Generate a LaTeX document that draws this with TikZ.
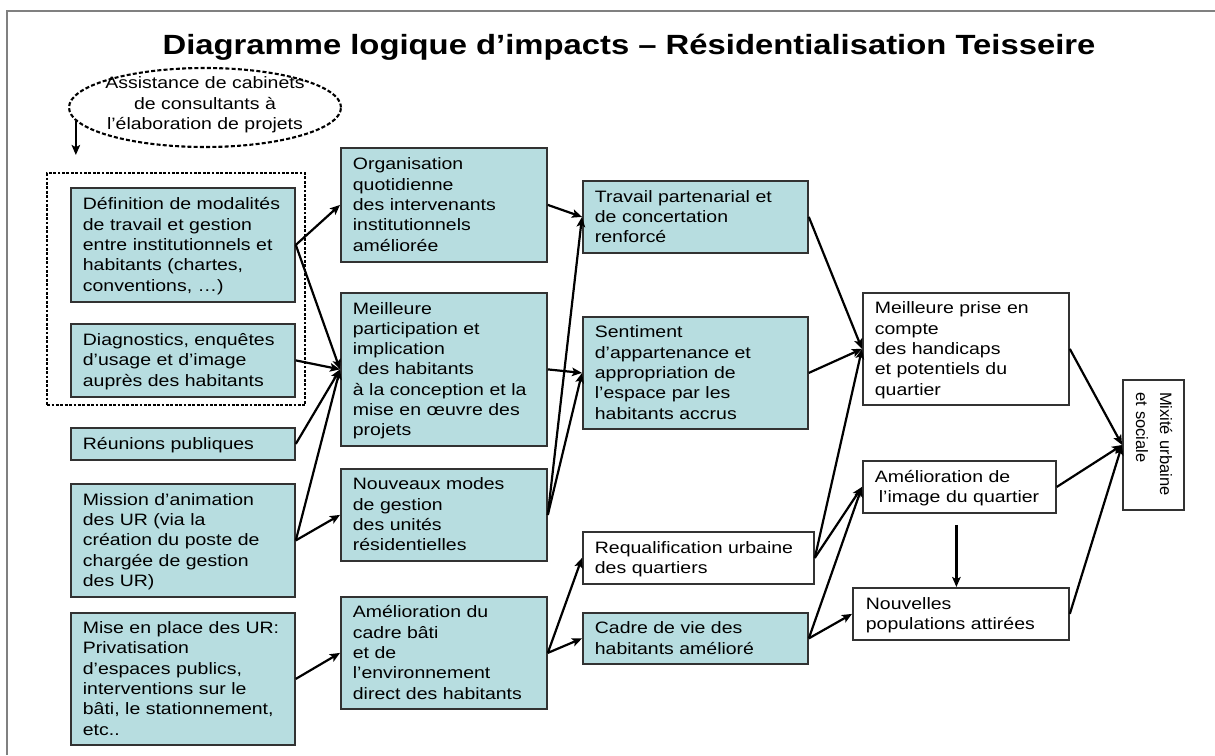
\documentclass[tikz,border=0pt]{standalone}
\usepackage{fontspec}
\setmainfont[FakeStretch=1.18]{Liberation Sans}
\newfontfamily\mixfont{Liberation Sans}
\usetikzlibrary{shapes.geometric,arrows.meta,calc}
\definecolor{boxfill}{RGB}{183,221,224}
\definecolor{boxline}{RGB}{50,50,50}
\definecolor{framegray}{RGB}{128,128,128}
\begin{document}
\begin{tikzpicture}[x=1pt,y=-1pt,
  base/.style={draw=boxline, line width=1.8pt, anchor=north west, inner sep=0pt,
    align=left, font=\fontsize{16.5}{20.3}\selectfont,
    execute at begin node={\rule{0pt}{15.5pt}},
    execute at end node={\rule[-4.5pt]{0pt}{4.5pt}}},
  tbox/.style={base, fill=boxfill},
  wbox/.style={base, fill=white},
  arr/.style={-{Stealth[length=10pt,width=8.5pt,inset=2.2pt]}, line width=2.2pt},
  grpbox/.style={draw=black, line width=2.2pt, dash pattern=on 2.8pt off 1.6pt, anchor=north west, inner sep=0pt},
  cloud/.style={ellipse, draw=black, line width=2.1pt, dash pattern=on 4pt off 2.2pt, inner sep=0pt},
  txt/.style={font=\fontsize{16.5}{20.3}\selectfont}
]
\useasboundingbox (0,0) rectangle (1215,755);
\draw[framegray, line width=1.3pt] (7,755) -- (7,11) -- (1215,11);

\node[font=\bfseries\fontsize{27.8}{31}\selectfont, anchor=base] (title) at (629,54)
  {Diagramme logique d’impacts – Résidentialisation Teisseire};

% consultants ellipse
\node[cloud, minimum width=272pt, minimum height=79pt] (ell) at (205,107.5) {};
\node[txt, align=center] (elltxt) at (205,105) {Assistance de cabinets\\de consultants à\\l’élaboration de projets};
\coordinate (ellarr) at (79,155);
\draw[arr] (ell.186.7) -- (ell.186.7 |- ellarr);

% dashed group
\node[grpbox, minimum width=258pt, minimum height=232pt] (grp) at (46,172) {};

% column 1
\node[tbox, minimum width=224pt, text width=200pt, minimum height=114pt] (def) at (70,187)
  {Définition de modalités\\de travail et gestion\\entre institutionnels et\\habitants (chartes,\\conventions, …)};
\node[tbox, minimum width=224pt, text width=200pt, minimum height=73pt] (dia) at (70,323)
  {Diagnostics, enquêtes\\d’usage et d’image\\auprès des habitants};
\node[tbox, minimum width=224pt, text width=200pt, minimum height=32pt] (reu) at (70,427)
  {Réunions publiques};
\node[tbox, minimum width=224pt, text width=200pt, minimum height=113pt] (mis) at (70,483)
  {Mission d’animation\\des UR (via la\\création du poste de\\chargée de gestion\\des UR)};
\node[tbox, minimum width=224pt, text width=200pt, minimum height=132pt] (mep) at (70,612)
  {Mise en place des UR:\\Privatisation\\d’espaces publics,\\interventions sur le\\bâti, le stationnement,\\etc..};

% column 2
\node[tbox, minimum width=206pt, text width=182pt, minimum height=114pt] (org) at (340,147)
  {Organisation\\quotidienne\\des intervenants\\institutionnels\\améliorée};
\node[tbox, minimum width=206pt, text width=182pt, minimum height=153pt] (mei) at (340,292)
  {Meilleure\\participation et\\implication\\\hspace*{5pt}des habitants\\à la conception et la\\mise en œuvre des\\projets};
\node[tbox, minimum width=206pt, text width=182pt, minimum height=92pt] (nou) at (340,468)
  {Nouveaux modes\\de gestion\\des unités\\résidentielles};
\node[tbox, minimum width=206pt, text width=182pt, minimum height=112pt] (ame) at (340,596)
  {Amélioration du\\cadre bâti\\et de\\l’environnement\\direct des habitants};

% column 3
\node[tbox, minimum width=225pt, text width=201pt, minimum height=72pt] (tra) at (582,180)
  {Travail partenarial et\\de concertation\\renforcé};
\node[tbox, minimum width=225pt, text width=201pt, minimum height=112pt] (sen) at (582,316)
  {Sentiment\\d’appartenance et\\appropriation de\\l’espace par les\\habitants accrus};
\node[wbox, minimum width=231pt, text width=207pt, minimum height=52pt] (req) at (582,531)
  {Requalification urbaine\\des quartiers};
\node[tbox, minimum width=225pt, text width=201pt, minimum height=51pt] (cad) at (582,612)
  {Cadre de vie des\\habitants amélioré};

% column 4
\node[wbox, minimum width=206pt, text width=182pt, minimum height=112pt] (mpc) at (862,292)
  {Meilleure prise en\\compte\\des handicaps\\et potentiels du\\quartier};
\node[wbox, minimum width=193pt, text width=169pt, minimum height=52pt] (img) at (862,460)
  {Amélioration de\\\hspace*{4pt}l’image du quartier};
\node[wbox, minimum width=216pt, text width=190pt, minimum height=52pt] (npa) at (852,587)
  {Nouvelles\\populations attirées};

% final outcome
\node[wbox, anchor=center, rotate=-90, minimum width=130pt, text width=106pt, minimum height=61pt,
  font=\mixfont\fontsize{16.5}{24}\selectfont] (mix) at (1153.5,445)
  {Mixité urbaine\\et sociale};

% connectors
\draw[arr] (def.east) -- (org.west);
\draw[arr] (def.east) -- (mei.west);
\draw[arr] (dia.east) -- (mei.west);
\draw[arr] (reu.east) -- (mei.west);
\draw[arr] (mis.east) -- (mei.west);
\draw[arr] (mis.east) -- (nou.west);
\draw[arr] (mep.east) -- (ame.west);

\draw[arr] (org.east) -- (tra.west);
\draw[arr] (mei.east) -- (sen.west);
\draw[arr] (nou.east) -- (tra.west);
\draw[arr] (nou.east) -- (sen.west);
\draw[arr] (ame.east) -- (req.west);
\draw[arr] (ame.east) -- (cad.west);

\draw[arr] (tra.east) -- (mpc.west);
\draw[arr] (sen.east) -- (mpc.west);
\draw[arr] (req.east) -- (mpc.west);
\draw[arr] (req.east) -- (img.west);
\draw[arr] (cad.east) -- (img.west);
\draw[arr] (cad.east) -- (npa.west);
\draw[arr, shorten <=11pt] ([xshift=-3pt]img.south) -- ([xshift=-3pt]img.south |- npa.north);

\draw[arr] (mpc.east) -- (mix.south);
\draw[arr] (img.east) -- (mix.south);
\draw[arr] (npa.east) -- (mix.south);
\end{tikzpicture}
\end{document}
